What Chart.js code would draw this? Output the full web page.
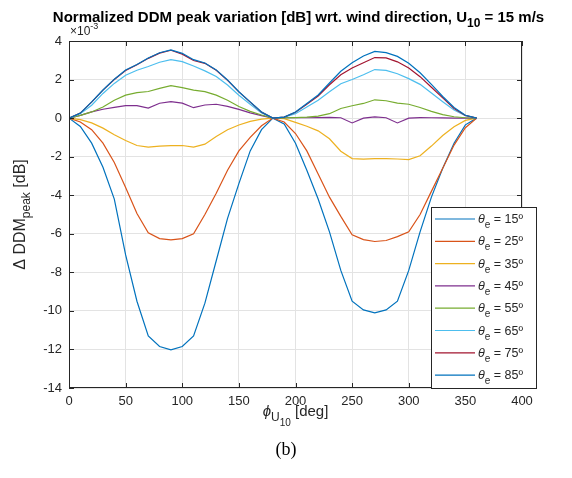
<!DOCTYPE html>
<html>
<head>
<meta charset="utf-8">
<script src="https://cdn.jsdelivr.net/npm/chart.js@4"></script>
<style>
  html, body { margin: 0; padding: 0; background: #fff; }
</style>
</head>
<body>
<canvas id="myChart" width="572" height="478"></canvas>
<script>
// wind direction, deg
const windDir = [0, 10, 20, 30, 40, 50, 60, 70, 80, 90, 100, 110, 120, 130, 140, 150, 160, 170, 180,
  190, 200, 210, 220, 230, 240, 250, 260, 270, 280, 290, 300, 310, 320, 330, 340, 350, 360];

// delta DDM peak, units of 1e-3 dB, one array per elevation angle
const dB15 = [0, -0.43, -1.3, -2.55, -4.2, -7.1, -9.5, -11.3, -11.85, -12.02, -11.85, -11.3, -9.6, -7.4, -5.2, -3.4, -1.7, -0.6, 0,
  -0.3, -1.3, -2.7, -4.2, -5.9, -7.9, -9.5, -9.95, -10.1, -9.95, -9.5, -7.9, -5.9, -4.1, -2.6, -1.3, -0.35, 0];
const dB25 = [0, -0.2, -0.6, -1.3, -2.3, -3.6, -4.95, -5.95, -6.25, -6.32, -6.25, -6.0, -5.0, -3.9, -2.7, -1.7, -1.0, -0.4, 0,
  -0.2, -0.8, -1.7, -2.9, -4.1, -5.1, -6.05, -6.3, -6.4, -6.35, -6.15, -5.9, -5.0, -3.8, -2.6, -1.4, -0.5, 0];
const dB35 = [0, -0.08, -0.25, -0.52, -0.86, -1.16, -1.42, -1.5, -1.45, -1.43, -1.42, -1.5, -1.35, -0.95, -0.6, -0.36, -0.17, -0.05, 0,
  -0.03, -0.22, -0.42, -0.66, -1.07, -1.72, -2.1, -2.13, -2.1, -2.1, -2.12, -2.15, -1.95, -1.45, -0.9, -0.45, -0.12, 0];
const dB45 = [0, 0.14, 0.32, 0.46, 0.56, 0.65, 0.65, 0.52, 0.77, 0.86, 0.78, 0.54, 0.68, 0.72, 0.61, 0.45, 0.27, 0.13, 0,
  0.02, 0.02, 0.02, 0.03, 0.04, 0.02, -0.25, 0.0, 0.06, 0.02, -0.25, 0.0, 0.03, 0.02, 0.01, 0.0, 0.0, 0];
const dB55 = [0, 0.14, 0.32, 0.58, 0.93, 1.19, 1.32, 1.38, 1.54, 1.68, 1.58, 1.45, 1.37, 1.19, 0.93, 0.6, 0.35, 0.16, 0,
  0.01, 0.03, 0.05, 0.1, 0.23, 0.5, 0.64, 0.76, 0.95, 0.9, 0.78, 0.72, 0.55, 0.35, 0.18, 0.07, 0.02, 0];
const dB65 = [0, 0.23, 0.67, 1.28, 1.8, 2.22, 2.48, 2.68, 2.9, 3.03, 2.93, 2.7, 2.45, 2.16, 1.72, 1.19, 0.72, 0.26, 0,
  0.05, 0.23, 0.58, 0.93, 1.37, 1.78, 2.0, 2.25, 2.52, 2.48, 2.3, 2.05, 1.75, 1.3, 0.85, 0.42, 0.12, 0];
const dB75 = [0, 0.26, 0.83, 1.45, 2.0, 2.47, 2.77, 3.1, 3.37, 3.52, 3.32, 2.99, 2.84, 2.48, 1.96, 1.36, 0.83, 0.31, 0,
  0.05, 0.3, 0.72, 1.15, 1.73, 2.25, 2.6, 2.87, 3.14, 3.12, 2.92, 2.6, 2.15, 1.6, 1.05, 0.5, 0.14, 0];
const dB85 = [0, 0.26, 0.84, 1.46, 2.02, 2.5, 2.78, 3.12, 3.39, 3.54, 3.36, 3.03, 2.86, 2.5, 1.98, 1.37, 0.84, 0.32, 0,
  0.05, 0.32, 0.76, 1.2, 1.82, 2.43, 2.87, 3.22, 3.46, 3.4, 3.2, 2.85, 2.35, 1.75, 1.12, 0.55, 0.15, 0];

const elevations = ["15", "25", "35", "45", "55", "65", "75", "85"];
const series = [dB15, dB25, dB35, dB45, dB55, dB65, dB75, dB85];
const colors = ["#0072BD", "#D95319", "#EDB120", "#7E2F8E", "#77AC30", "#4DBEEE", "#A2142F", "#0072BD"];

const yTicks = [4, 2, 0, -2, -4, -6, -8, -10, -12, -14];
const xTicks = [0, 50, 100, 150, 200, 250, 300, 350, 400];

const AXIS = "#262626";
const SANS = "'Liberation Sans', Arial, sans-serif";

// draw a run of text pieces (sub/superscripts via dy)
function drawRich(ctx, x, y, parts, align) {
  let total = 0;
  parts.forEach(p => {
    ctx.font = p.font;
    p.w = ctx.measureText(p.t).width;
    total += p.w;
  });
  let cx = align === "center" ? x - total / 2 : x;
  ctx.textAlign = "left";
  ctx.textBaseline = "alphabetic";
  parts.forEach(p => {
    ctx.font = p.font;
    ctx.fillText(p.t, cx, y + (p.dy || 0));
    cx += p.w;
  });
}

const matlabDecor = {
  id: "matlabDecor",
  afterDatasetsDraw(chart) {
    const { ctx, chartArea: a, scales } = chart;
    ctx.save();
    ctx.strokeStyle = AXIS;
    ctx.lineWidth = 1;
    ctx.strokeRect(a.left + 0.5, a.top + 0.5, a.right - a.left - 1, a.bottom - a.top - 1);
    ctx.beginPath();
    xTicks.forEach(v => {
      const px = Math.round(scales.x.getPixelForValue(v)) + 0.5;
      ctx.moveTo(px, a.bottom); ctx.lineTo(px, a.bottom - 5);
      ctx.moveTo(px, a.top); ctx.lineTo(px, a.top + 5);
    });
    yTicks.forEach(v => {
      const py = Math.round(scales.y.getPixelForValue(v)) + 0.5;
      ctx.moveTo(a.left, py); ctx.lineTo(a.left + 5, py);
      ctx.moveTo(a.right, py); ctx.lineTo(a.right - 5, py);
    });
    ctx.stroke();
    ctx.restore();
  },
  afterDraw(chart) {
    const { ctx, chartArea: a } = chart;
    const midX = (a.left + a.right) / 2;
    ctx.save();
    ctx.fillStyle = "#000";

    // title
    drawRich(ctx, midX + 3, 22, [
      { t: "Normalized DDM peak variation [dB] wrt. wind direction, U", font: "bold 15px " + SANS },
      { t: "10", font: "bold 12px " + SANS, dy: 5 },
      { t: " = 15 m/s", font: "bold 15px " + SANS }
    ], "center");

    // exponent label
    ctx.fillStyle = AXIS;
    drawRich(ctx, a.left + 1, a.top - 6, [
      { t: "\u00d710", font: "12px " + SANS },
      { t: "-3", font: "9px " + SANS, dy: -6 }
    ], "left");

    // y axis title
    ctx.save();
    ctx.translate(25, (a.top + a.bottom) / 2);
    ctx.rotate(-Math.PI / 2);
    drawRich(ctx, 0, 0, [
      { t: "\u0394 DDM", font: "16px " + SANS },
      { t: "peak", font: "12px " + SANS, dy: 5 },
      { t: " [dB]", font: "16px " + SANS }
    ], "center");
    ctx.restore();

    // x axis title
    drawRich(ctx, midX, 416, [
      { t: "\u03d5", font: "italic 15px " + SANS },
      { t: "U", font: "12px " + SANS, dy: 5 },
      { t: "10", font: "10px " + SANS, dy: 10 },
      { t: " [deg]", font: "15px " + SANS }
    ], "center");

    // caption
    ctx.fillStyle = "#000";
    ctx.font = "18px 'Liberation Serif', 'Times New Roman', serif";
    ctx.textAlign = "center";
    ctx.fillText("(b)", 286, 455);

    // legend box
    const lx = 431, ly = 207, lw = 105, lh = 181, step = 22.3;
    ctx.fillStyle = "#fff";
    ctx.fillRect(lx, ly, lw, lh);
    ctx.strokeStyle = AXIS;
    ctx.lineWidth = 1;
    ctx.strokeRect(lx + 0.5, ly + 0.5, lw, lh);
    elevations.forEach((el, i) => {
      const y = ly + 12 + i * step;
      ctx.strokeStyle = colors[i];
      ctx.lineWidth = 1.2;
      ctx.beginPath();
      ctx.moveTo(lx + 4, y);
      ctx.lineTo(lx + 44, y);
      ctx.stroke();
      ctx.fillStyle = AXIS;
      drawRich(ctx, lx + 47, y + 4, [
        { t: "\u03b8", font: "italic 12.5px " + SANS },
        { t: "e", font: "10px " + SANS, dy: 5 },
        { t: " = " + el + "\u00ba", font: "12.5px " + SANS }
      ], "left");
    });
    ctx.restore();
  }
};

const ctx = document.getElementById("myChart").getContext("2d");
const myChart = new Chart(ctx, {
  type: "scatter",
  data: {
    datasets: series.map((vals, i) => ({
      label: "\u03b8e = " + elevations[i] + "\u00ba",
      data: windDir.map((d, k) => ({ x: d, y: vals[k] })),
      showLine: true,
      borderColor: colors[i],
      backgroundColor: colors[i],
      borderWidth: 1.2,
      pointRadius: 0,
      tension: 0,
      order: series.length - i
    }))
  },
  options: {
    responsive: false,
    animation: false,
    layout: { padding: { top: 41, right: 50, left: 0, bottom: 0 } },
    plugins: {
      legend: { display: false },
      tooltip: { enabled: false },
      title: { display: false }
    },
    scales: {
      x: {
        type: "linear",
        min: 0,
        max: 400,
        ticks: { stepSize: 50, color: AXIS, font: { family: SANS, size: 13 }, padding: 6, maxRotation: 0 },
        grid: { color: "#e3e3e3", drawTicks: false, tickLength: 0 },
        border: { display: false },
        afterFit(scale) { scale.height = 90; }
      },
      y: {
        type: "linear",
        min: -14,
        max: 4,
        ticks: { stepSize: 2, color: AXIS, font: { family: SANS, size: 13 }, padding: 7 },
        grid: { color: "#e3e3e3", drawTicks: false, tickLength: 0 },
        border: { display: false },
        afterFit(scale) { scale.width = 69; }
      }
    }
  },
  plugins: [matlabDecor]
});
</script>
</body>
</html>
